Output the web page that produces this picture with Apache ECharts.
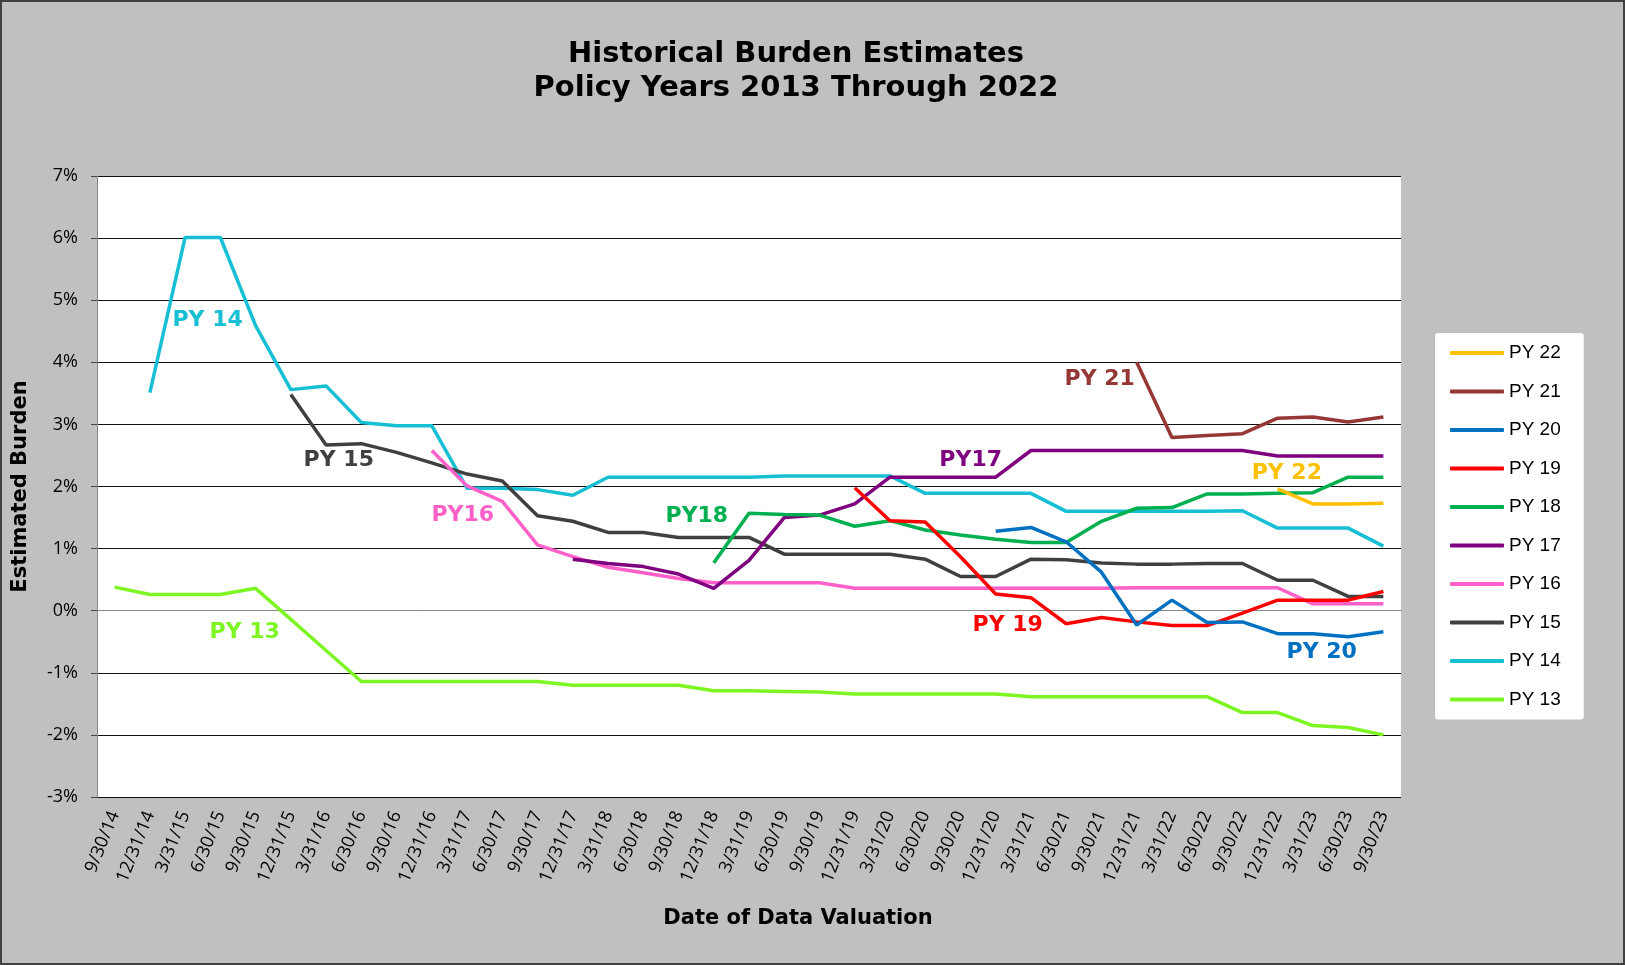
<!DOCTYPE html>
<html>
<head>
<meta charset="utf-8">
<script src="https://cdn.jsdelivr.net/npm/echarts@6/dist/echarts.min.js"></script>
<style>
html,body{margin:0;padding:0;background:#c0c0c0;}
#chart{width:1625px;height:965px;}
</style>
</head>
<body>
<div id="chart"></div>
<script>
const categories = ['9/30/14','12/31/14','3/31/15','6/30/15','9/30/15','12/31/15','3/31/16','6/30/16','9/30/16','12/31/16','3/31/17','6/30/17','9/30/17','12/31/17','3/31/18','6/30/18','9/30/18','12/31/18','3/31/19','6/30/19','9/30/19','12/31/19','3/31/20','6/30/20','9/30/20','12/31/20','3/31/21','6/30/21','9/30/21','12/31/21','3/31/22','6/30/22','9/30/22','12/31/22','3/31/23','6/30/23','9/30/23'];

const _ = null;
const py13 = [0.38,0.26,0.26,0.26,0.36,-0.14,-0.64,-1.14,-1.14,-1.14,-1.14,-1.14,-1.14,-1.20,-1.20,-1.20,-1.20,-1.29,-1.29,-1.30,-1.31,-1.34,-1.34,-1.34,-1.34,-1.34,-1.385,-1.385,-1.385,-1.385,-1.385,-1.385,-1.64,-1.64,-1.85,-1.88,-2.00];
const py14 = [_,3.51,6.01,6.01,4.59,3.56,3.62,3.03,2.98,2.98,1.97,1.97,1.95,1.86,2.15,2.15,2.15,2.15,2.15,2.17,2.17,2.17,2.17,1.89,1.89,1.89,1.89,1.60,1.60,1.60,1.60,1.60,1.61,1.33,1.33,1.33,1.04];
const py15 = [_,_,_,_,_,3.48,2.67,2.69,2.55,2.38,2.20,2.09,1.53,1.44,1.26,1.26,1.18,1.18,1.18,0.91,0.91,0.91,0.91,0.83,0.55,0.55,0.83,0.82,0.77,0.75,0.75,0.76,0.76,0.49,0.49,0.23,0.23];
const py16 = [_,_,_,_,_,_,_,_,_,2.58,2.01,1.76,1.06,0.87,0.70,0.61,0.52,0.45,0.45,0.45,0.45,0.36,0.36,0.36,0.36,0.36,0.36,0.36,0.36,0.37,0.37,0.37,0.37,0.37,0.11,0.11,0.11];
const py17 = [_,_,_,_,_,_,_,_,_,_,_,_,_,0.83,0.76,0.71,0.59,0.36,0.81,1.50,1.54,1.72,2.15,2.15,2.15,2.15,2.58,2.58,2.58,2.58,2.58,2.58,2.58,2.49,2.49,2.49,2.49];
const py18 = [_,_,_,_,_,_,_,_,_,_,_,_,_,_,_,_,_,0.77,1.57,1.55,1.54,1.36,1.45,1.30,1.22,1.15,1.10,1.10,1.44,1.65,1.66,1.88,1.88,1.89,1.90,2.15,2.15];
const py19 = [_,_,_,_,_,_,_,_,_,_,_,_,_,_,_,_,_,_,_,_,_,1.98,1.45,1.43,0.87,0.27,0.21,-0.21,-0.11,-0.18,-0.24,-0.24,-0.04,0.17,0.17,0.17,0.31];
const py20 = [_,_,_,_,_,_,_,_,_,_,_,_,_,_,_,_,_,_,_,_,_,_,_,_,_,1.28,1.34,1.11,0.62,-0.23,0.17,-0.19,-0.18,-0.37,-0.37,-0.42,-0.34];
const py21 = [_,_,_,_,_,_,_,_,_,_,_,_,_,_,_,_,_,_,_,_,_,_,_,_,_,_,_,_,_,4.00,2.79,2.82,2.85,3.10,3.12,3.04,3.12];
const py22 = [_,_,_,_,_,_,_,_,_,_,_,_,_,_,_,_,_,_,_,_,_,_,_,_,_,_,_,_,_,_,_,_,_,1.96,1.72,1.72,1.73];

const yTicks = [-3,-2,-1,0,1,2,3,4,5,6,7];

const seriesNames = ['PY 22','PY 21','PY 20','PY 19','PY 18','PY 17','PY 16','PY 15','PY 14','PY 13'];
const seriesData  = [py22, py21, py20, py19, py18, py17, py16, py15, py14, py13];
const seriesColors = ['#FFC000','#953735','#0070C0','#FF0000','#00B050','#7F007F','#FF5FC8','#404040','#17BFD4','#7CF522'];

// in-plot annotation labels: text, category index (fractional), value, color
const annoText  = ['PY 14','PY 15','PY16','PY 13','PY18','PY17','PY 21','PY 22','PY 19','PY 20'];
const annoIndex = [2.64, 6.36, 9.88, 3.69, 16.52, 24.29, 27.95, 33.26, 25.34, 34.25];
const annoValue = [4.68, 2.43, 1.53, -0.34, 1.52, 2.43, 3.72, 2.22, -0.23, -0.67];
const annoColor = ['#17BFD4','#404040','#FF5FC8','#7CF522','#00B050','#7F007F','#953735','#FFC000','#FF0000','#0070C0'];

const chart = echarts.init(document.getElementById('chart'), null, {renderer:'canvas'});

const series = seriesNames.map((n, k) => ({
  name: n,
  type: 'line',
  data: seriesData[k],
  showSymbol: false,
  symbol: 'none',
  connectNulls: false,
  lineStyle: { color: seriesColors[k], width: 3.5 },
  itemStyle: { color: seriesColors[k] },
  z: 10 - k
}));

chart.setOption({
  animation: false,
  backgroundColor: '#c0c0c0',
  grid: {
    left: 97, right: 224, top: 176, bottom: 168,
    show: true, backgroundColor: '#ffffff', borderWidth: 0
  },
  legend: {
    orient: 'vertical',
    left: 1435, top: 333,
    padding: [10, 23, 10, 15],
    backgroundColor: '#ffffff',
    borderRadius: 3,
    itemWidth: 54, itemHeight: 4,
    itemGap: 18.5,
    itemTextGap: 4,
    icon: 'roundRect',
    data: seriesNames,
    textStyle: { fontFamily: 'Liberation Sans, Arial', fontSize: 19, color: '#000', lineHeight: 20 }
  },
  xAxis: {
    type: 'category',
    data: categories,
    boundaryGap: true,
    axisLine: { show: true, lineStyle: { color: '#888', width: 1 } },
    axisTick: { show: false },
    axisLabel: {
      interval: 0, rotate: 68, margin: 15,
      fontFamily: 'Open Sans', fontSize: 18, color: '#000'
    },
    splitLine: { show: false }
  },
  yAxis: {
    type: 'value',
    min: yTicks[0], max: yTicks[yTicks.length - 1], interval: 1,
    axisLine: { show: true, lineStyle: { color: '#888', width: 1 } },
    axisTick: { show: true, length: 6, lineStyle: { color: '#444' } },
    axisLabel: {
      formatter: '{value}%', margin: 19,
      fontFamily: 'Open Sans', fontSize: 18, color: '#000'
    },
    splitLine: { show: true, lineStyle: { color: '#111', width: 1 } },
    name: 'Estimated Burden',
    nameLocation: 'middle',
    nameGap: 66,
    nameTextStyle: { fontFamily: 'DejaVu Sans', fontWeight: 'bold', fontSize: 21, color: '#000' }
  },
  series: series
});

function pix(idx, val) {
  const i0 = Math.floor(idx), f = idx - i0;
  const p0 = chart.convertToPixel({gridIndex: 0}, [i0, val]);
  const p1 = chart.convertToPixel({gridIndex: 0}, [i0 + 1, val]);
  return [p0[0] + f * (p1[0] - p0[0]), p0[1]];
}

const graphics = [
  { type: 'rect', shape: { x: 1, y: 1, width: 1623, height: 963 }, style: { fill: 'none', stroke: '#404040', lineWidth: 2 }, z: 100, silent: true },
  { type: 'text', x: 796, y: 54, style: { text: 'Historical Burden Estimates', font: 'bold 29px "DejaVu Sans"', fill: '#000', textAlign: 'center', textVerticalAlign: 'middle' }, z: 100 },
  { type: 'text', x: 796, y: 88, style: { text: 'Policy Years 2013 Through 2022', font: 'bold 29px "DejaVu Sans"', fill: '#000', textAlign: 'center', textVerticalAlign: 'middle' }, z: 100 },
  { type: 'text', x: 798, y: 919, style: { text: 'Date of Data Valuation', font: 'bold 21px "DejaVu Sans"', fill: '#000', textAlign: 'center', textVerticalAlign: 'middle' }, z: 100 }
];
annoText.forEach((t, k) => {
  const p = pix(annoIndex[k], annoValue[k]);
  graphics.push({ type: 'text', x: p[0], y: p[1], style: { text: t, font: 'bold 22px "DejaVu Sans"', fill: annoColor[k], textAlign: 'center', textVerticalAlign: 'middle' }, z: 100 });
});
chart.setOption({ graphic: graphics });
</script>
</body>
</html>
